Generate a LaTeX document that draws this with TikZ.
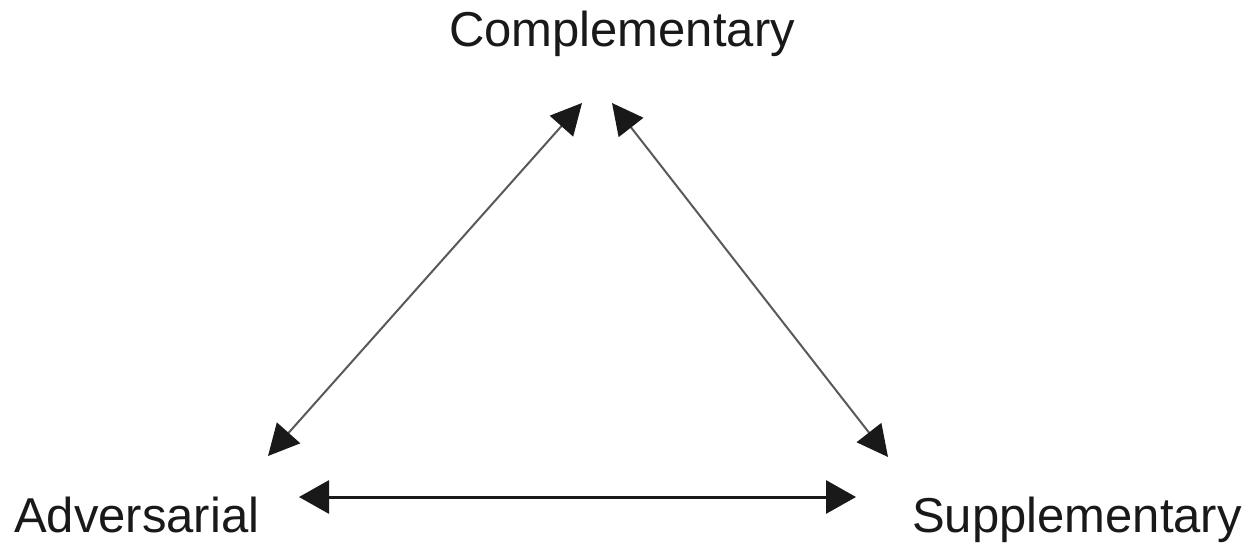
\documentclass[tikz,border=0pt]{standalone}
\usepackage{fontspec}
\setmainfont{Liberation Sans}
\usetikzlibrary{arrows.meta}
\tikzset{
  lbl/.style={inner sep=0pt, font=\fontsize{49}{58}\selectfont, text=black!90},
  dtip/.tip={Triangle[length=31pt,width=31pt,color=black!90]},
  htip/.tip={Triangle[length=30pt,width=33pt,color=black!90]},
  diag/.style={dtip-dtip, line width=2pt, draw=black!65},
  horiz/.style={htip-htip, line width=3pt, draw=black!90}
}
\begin{document}
\begin{tikzpicture}[x=1pt,y=1pt]
\useasboundingbox (0,0) rectangle (1246,-543);
\node[lbl, anchor=base] (comp) at (622,-47) {Complementary};
\node[lbl, anchor=base west] (adv) at (14,-532) {Adversarial};
\node[lbl, anchor=base east] (supp) at (1242,-532) {Supplementary};
\coordinate (cl) at (582,-103);
\coordinate (cr) at (612,-103);
\coordinate (al) at (268,-456);
\coordinate (ah) at (299,-497);
\coordinate (sl) at (888,-457);
\coordinate (sh) at (856,-497);
\draw[diag] (al) -- (cl);
\draw[diag] (cr) -- (sl);
\draw[horiz] (ah) -- (sh);
\end{tikzpicture}
\end{document}
